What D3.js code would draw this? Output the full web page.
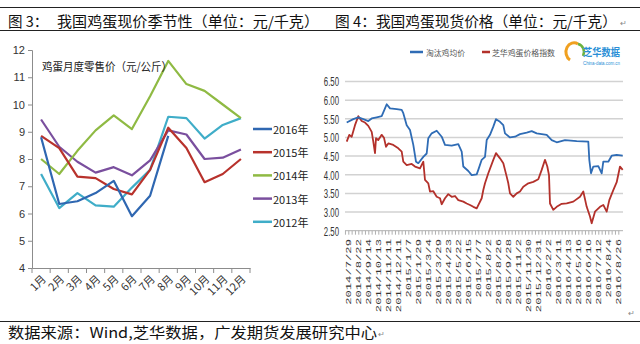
<!DOCTYPE html>
<html><head><meta charset="utf-8">
<script src="https://cdn.jsdelivr.net/npm/d3@7"></script>
<style>body{margin:0;background:#fff}svg{display:block}</style>
</head><body><svg id="c" width="640" height="344"></svg>
<script>
// ---------- Left chart data (图3) ----------
const months = ["1月","2月","3月","4月","5月","6月","7月","8月","9月","10月","11月","12月"];
const seasonTicks = [4,5,6,7,8,9,10,11,12];
const years = ["2016年","2015年","2014年","2013年","2012年"];
const y2016 = [8.8,6.35,6.45,6.75,7.2,5.9,6.65,8.85];
const y2015 = [8.85,8.4,7.35,7.3,6.9,6.7,7.6,9.15,8.4,7.15,7.45,8.0];
const y2014 = [8.0,7.45,8.3,9.05,9.6,9.1,10.3,11.6,10.75,10.5,10.0,9.5];
const y2013 = [9.45,8.45,7.9,7.5,7.7,7.4,7.95,9.05,8.9,8.0,8.05,8.35];
const y2012 = [7.45,6.2,6.75,6.3,6.25,6.95,7.6,9.55,9.5,8.75,9.25,9.5];

// ---------- Right chart data (图4) ----------
const dateLabels = ["2014/7/29","2014/8/22","2014/9/14","2014/10/13","2014/11/11","2014/12/11","2015/1/7","2015/1/29","2015/3/4","2015/3/29","2015/4/23","2015/5/22","2015/6/15","2015/7/7","2015/8/2","2015/8/26","2015/9/28","2015/11/2","2015/11/30","2015/12/31","2016/2/2","2016/3/11","2016/4/13","2016/5/16","2016/6/16","2016/7/12","2016/8/4","2016/8/26"];
const priceTicks = [2.5,3.0,3.5,4.0,4.5,5.0,5.5,6.0,6.5];
const seriesNames = ["淘汰鸡均价","芝华鸡蛋价格指数"];
// [position in label slots, value]
const henPrice = [[-0.16,5.40],[0.5,5.49],[1.0,5.54],[1.5,5.49],[2.0,5.44],[2.34,5.51],[2.84,5.54],[3.34,5.57],[3.67,5.78],[3.84,5.89],[4.17,5.78],[4.84,5.76],[5.34,5.74],[5.5,5.65],[5.84,5.33],[6.17,5.20],[6.5,4.80],[6.77,4.35],[7.0,4.31],[7.5,4.48],[7.84,4.57],[8.0,4.98],[8.34,5.11],[8.84,5.18],[9.34,5.02],[9.67,4.80],[10.34,4.78],[11.0,4.82],[11.34,4.62],[11.5,4.22],[12.0,4.10],[12.34,3.99],[12.84,4.01],[13.0,4.13],[13.34,4.40],[13.67,4.48],[13.84,4.93],[14.17,5.07],[14.5,5.29],[14.77,5.49],[15.17,5.42],[15.5,5.33],[15.67,5.11],[16.17,5.00],[16.67,5.02],[17.17,5.09],[17.84,5.13],[18.34,5.17],[18.84,5.11],[19.84,5.07],[20.34,4.93],[20.84,4.87],[21.67,4.93],[22.84,4.90],[24.0,4.89],[24.1,4.40],[24.27,4.04],[24.5,4.22],[25.0,4.23],[25.34,4.04],[25.5,4.35],[26.0,4.35],[26.34,4.51],[26.84,4.53],[27.44,4.51]];
const eggIndex = [[-0.16,4.89],[0.1,5.07],[0.34,5.02],[0.67,5.33],[1.0,5.57],[1.34,5.44],[1.67,5.40],[2.0,5.31],[2.34,5.15],[2.5,4.89],[2.67,4.58],[2.77,4.98],[3.0,4.93],[3.34,5.07],[3.57,4.99],[3.77,4.75],[4.0,4.84],[4.5,4.80],[5.0,4.71],[5.34,4.62],[5.5,4.35],[5.84,4.26],[6.34,4.29],[6.67,4.22],[7.17,4.17],[7.5,4.35],[7.67,3.86],[8.0,3.77],[8.17,3.55],[8.5,3.56],[8.84,3.41],[9.17,3.37],[9.34,3.21],[9.67,3.37],[10.0,3.48],[10.34,3.41],[10.67,3.43],[11.0,3.32],[11.5,3.28],[11.84,3.23],[12.17,3.19],[12.5,3.14],[12.84,3.10],[13.34,3.37],[13.5,3.59],[13.67,3.77],[14.0,4.04],[14.5,4.40],[14.77,4.58],[15.17,4.44],[15.5,4.31],[15.84,3.95],[16.0,3.77],[16.17,3.50],[16.5,3.41],[16.84,3.50],[17.17,3.55],[17.5,3.68],[18.0,3.77],[18.5,3.81],[19.0,3.88],[19.34,4.13],[19.67,4.40],[19.9,4.22],[20.07,3.99],[20.12,3.60],[20.17,3.23],[20.5,3.06],[20.84,3.14],[21.34,3.22],[21.84,3.23],[22.5,3.28],[23.17,3.41],[23.5,3.55],[23.84,3.14],[24.17,2.88],[24.34,2.70],[24.67,3.01],[25.17,3.14],[25.5,3.19],[25.84,3.01],[26.1,3.32],[26.5,3.59],[26.84,3.80],[27.17,4.22],[27.44,4.13]];

const svg = d3.select("#c");
const CJK = "'Noto Sans CJK SC','Noto Sans',sans-serif";

// ---------- Page frame: rules, titles, source ----------
[7.5, 30.5, 321.5].forEach(y => svg.append("line").attr("x1",0).attr("x2",640).attr("y1",y).attr("y2",y).attr("stroke","#222").attr("stroke-width",1));
svg.append("text").attr("x",8).attr("y",20).attr("dominant-baseline","central").attr("font-family",CJK).attr("font-size",14.5).attr("fill","#111").text("图 3：");
svg.append("text").attr("x",57).attr("y",20).attr("dominant-baseline","central").attr("font-family",CJK).attr("font-size",14.5).attr("fill","#111")
  .attr("textLength",262).attr("lengthAdjust","spacingAndGlyphs").text("我国鸡蛋现价季节性（单位：元/千克）");
svg.append("text").attr("x",335).attr("y",20).attr("dominant-baseline","central").attr("font-family",CJK).attr("font-size",14.5).attr("fill","#111")
  .attr("textLength",282).attr("lengthAdjust","spacingAndGlyphs").text("图 4：我国鸡蛋现货价格（单位：元/千克）");
svg.append("text").attr("x",620).attr("y",22).attr("dominant-baseline","central").attr("font-family",CJK).attr("font-size",8).attr("fill","#888").text("↵");
svg.append("text").attr("x",8).attr("y",331).attr("dominant-baseline","central").attr("font-family",CJK).attr("font-size",14.5).attr("fill","#111")
  .attr("textLength",369).attr("lengthAdjust","spacingAndGlyphs").text("数据来源：Wind,芝华数据，广发期货发展研究中心");
svg.append("text").attr("x",378).attr("y",333).attr("dominant-baseline","central").attr("font-family",CJK).attr("font-size",8).attr("fill","#888").text("↵");
svg.append("text").attr("x",628).attr("y",312).attr("dominant-baseline","central").attr("font-family",CJK).attr("font-size",8).attr("fill","#888").text("↵");

// ---------- Left chart ----------
const L = {x0:32, x1:250, y0:268, y1:50};
const xL = d3.scaleBand().domain(months).range([L.x0,L.x1]);
const yL = d3.scaleLinear().domain([4,12]).range([L.y0,L.y1]);
const gL = svg.append("g");
const yAxL = gL.append("g").attr("transform",`translate(${L.x0},0)`)
  .call(d3.axisLeft(yL).tickValues(seasonTicks).tickSize(4).tickFormat(d3.format("d")));
const xAxL = gL.append("g").attr("transform",`translate(0,${L.y0})`)
  .call(d3.axisBottom(xL).tickSize(0).tickFormat(""));
[yAxL,xAxL].forEach(a=>{a.selectAll("path,line").attr("stroke","#8c8c8c");});
yAxL.selectAll("text").attr("font-family","'Liberation Sans',Arial,sans-serif").attr("font-size",11).attr("fill","#333").attr("x",-7);
// category boundary ticks
const bounds = months.map(m=>xL(m)).concat([L.x1]);
gL.selectAll("line.bt").data(bounds).join("line").attr("x1",d=>d).attr("x2",d=>d).attr("y1",L.y0).attr("y2",L.y0+5).attr("stroke","#8c8c8c");
gL.selectAll("text.ml").data(months).join("text")
  .attr("transform",d=>`translate(${xL(d)+xL.bandwidth()/2+3},${L.y0+9}) rotate(-45)`)
  .attr("text-anchor","end").attr("dy","0.35em")
  .attr("font-family",CJK).attr("font-size",11).attr("fill","#333").text(d=>d);

const seasonColors = ["#2f67b1","#b8322c","#8fba43","#7a4f9e","#3fadc8"];
const seasonData = [y2016,y2015,y2014,y2013,y2012];
const lineL = d3.line().x((d,i)=>xL(months[i])+xL.bandwidth()/2).y(d=>yL(d));
// draw order: older first
[4,3,2,1,0].forEach(k=>{
  gL.append("path").attr("d",lineL(seasonData[k])).attr("fill","none").attr("stroke",seasonColors[k]).attr("stroke-width",2.2).attr("stroke-linejoin","round");
});
gL.append("text").attr("x",42).attr("y",66).attr("dominant-baseline","central").attr("font-family",CJK).attr("font-size",11.5).attr("fill","#222")
  .attr("textLength",130).attr("lengthAdjust","spacingAndGlyphs").text("鸡蛋月度零售价（元/公斤）");
years.forEach((y,k)=>{
  const ly = 129 + k*23.2;
  gL.append("line").attr("x1",253).attr("x2",272).attr("y1",ly).attr("y2",ly).attr("stroke",seasonColors[k]).attr("stroke-width",2.5);
  gL.append("text").attr("x",273).attr("y",ly).attr("dominant-baseline","central").attr("font-family",CJK).attr("font-size",11).attr("fill","#222").text(y);
});

// ---------- Right chart ----------
const R = {x0:345, x1:623, y0:230.7, y1:81.5};
const xR = d3.scaleLinear().domain([0,27]).range([348.3,618.3]);
const yR = d3.scaleLinear().domain([2.5,6.5]).range([R.y0,R.y1]);
const gR = svg.append("g");
gR.selectAll("line.grid").data(priceTicks.slice(1)).join("line")
  .attr("x1",R.x0).attr("x2",R.x1).attr("y1",d=>yR(d)).attr("y2",d=>yR(d)).attr("stroke","#d2d2d2").attr("stroke-width",1.5);
const xAxR = gR.append("g").attr("transform",`translate(0,${R.y0})`)
  .call(d3.axisBottom(xR).tickValues(d3.range(-1,82).map(i=>i/3)).tickSize(4).tickFormat(""));
xAxR.select("path").attr("d",`M${R.x0},0H${R.x1}`);
xAxR.selectAll("path,line").attr("stroke","#b0b0b0");
gR.selectAll("text.yl").data(priceTicks).join("text")
  .attr("transform",d=>`translate(339,${yR(d)}) scale(0.6,1)`)
  .attr("text-anchor","end").attr("dominant-baseline","central")
  .attr("font-family","'Liberation Sans',Arial,sans-serif").attr("font-size",13).attr("fill","#333").text(d=>d.toFixed(2));
gR.selectAll("text.xl").data(dateLabels).join("text")
  .attr("transform",(d,i)=>`translate(${xR(i)},239) scale(0.62,1) rotate(-90)`)
  .attr("text-anchor","end").attr("dy","0.36em")
  .attr("font-family","'Liberation Mono','DejaVu Sans Mono',monospace").attr("font-size",12.2).attr("fill","#333").text(d=>d);

const lineR = d3.line().x(d=>xR(d[0])).y(d=>yR(d[1]));
gR.append("path").attr("d",lineR(eggIndex)).attr("fill","none").attr("stroke","#b3312b").attr("stroke-width",1.8).attr("stroke-linejoin","round");
gR.append("path").attr("d",lineR(henPrice)).attr("fill","none").attr("stroke","#2f6cb5").attr("stroke-width",1.8).attr("stroke-linejoin","round");

// legend
const legR = [{x1:410,x2:423,c:"#2f6cb5",tx:426,tl:39},{x1:482,x2:490,c:"#b3312b",tx:492,tl:63}];
legR.forEach((l,i)=>{
  gR.append("line").attr("x1",l.x1).attr("x2",l.x2).attr("y1",52).attr("y2",52).attr("stroke",l.c).attr("stroke-width",2.5);
  gR.append("text").attr("x",l.tx).attr("y",52).attr("dominant-baseline","central").attr("font-family",CJK).attr("font-size",8).attr("fill","#555")
    .attr("textLength",l.tl).attr("lengthAdjust","spacingAndGlyphs").text(seriesNames[i]);
});
// logo
gR.append("path").attr("d","M570,60 A7,8 0 0 1 578,44").attr("fill","none").attr("stroke","#f0a020").attr("stroke-width",3);
gR.append("path").attr("d","M578,44 A7,8 0 0 1 583,56").attr("fill","none").attr("stroke","#6cb33e").attr("stroke-width",2.5);
gR.append("text").attr("x",583).attr("y",51).attr("dominant-baseline","central").attr("font-family",CJK).attr("font-weight","bold").attr("font-size",10.5).attr("fill","#2a8fd6")
  .attr("textLength",37).attr("lengthAdjust","spacingAndGlyphs").text("芝华数据");
gR.append("text").attr("x",583).attr("y",63).attr("dominant-baseline","central").attr("font-family","'Liberation Sans',Arial,sans-serif").attr("font-size",5).attr("fill","#2a8fd6")
  .attr("textLength",37).attr("lengthAdjust","spacingAndGlyphs").text("China-data.com.cn");
</script></body></html>
